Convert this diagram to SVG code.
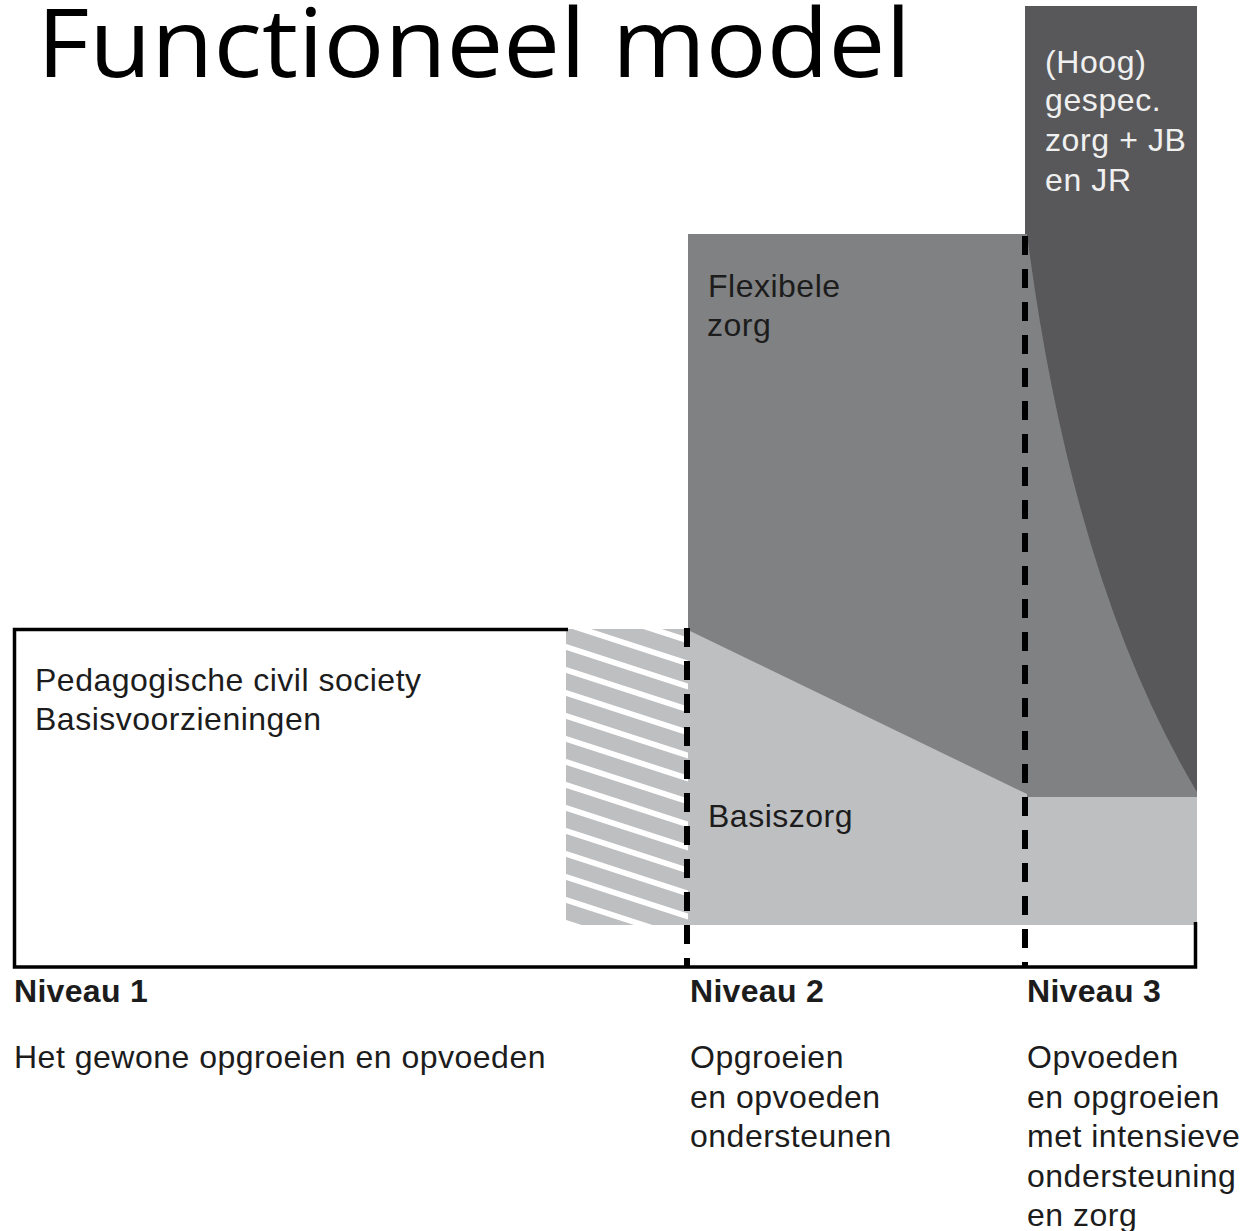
<svg xmlns="http://www.w3.org/2000/svg" width="1248" height="1231" viewBox="0 0 1248 1231">
  <style>
    .lbl { font-family: "Liberation Sans", Arial, sans-serif; font-size: 32px; letter-spacing: 0.5px; fill: #1c1c1c; }
    .lvl { font-family: "Liberation Sans", Arial, sans-serif; font-size: 32px; font-weight: bold; letter-spacing: 0.3px; fill: #1c1c1c; }
    .inv { font-family: "Liberation Sans", Arial, sans-serif; font-size: 32px; letter-spacing: 0.6px; fill: #f0f0f0; }
    .title { font-family: "Open Sans", "Liberation Sans", sans-serif; font-size: 96px; fill: #000; }
    .dash { stroke: #000; stroke-width: 6; stroke-dasharray: 19 14; fill: none; }
    .edge { stroke: #000; stroke-width: 3.5; fill: none; }
  </style>
  <defs>
    <pattern id="hatch" patternUnits="userSpaceOnUse" width="200" height="23" patternTransform="skewY(18)">
      <rect x="0" y="0" width="200" height="23" fill="#bebfc1"/>
      <rect x="0" y="0" width="200" height="6" fill="#ffffff"/>
    </pattern>
  </defs>
  <rect width="1248" height="1231" fill="#ffffff"/>

  <g id="title">
    <text class="title" x="37" y="77" textLength="874" lengthAdjust="spacingAndGlyphs">Functioneel model</text>
  </g>

  <g id="flexibele-zorg">
    <rect x="688" y="234" width="509" height="563" fill="#808183"/>
    <text class="lbl" x="708" y="297">Flexibele</text>
    <text class="lbl" x="707" y="336">zorg</text>
  </g>

  <g id="hoog-gespecialiseerde-zorg">
    <path d="M1025,6 H1197 V792 Q1072,583 1027,234 H1025 Z" fill="#58585a"/>
    <text class="inv" x="1045" y="73">(Hoog)</text>
    <text class="inv" x="1045" y="111">gespec.</text>
    <text class="inv" x="1045" y="151">zorg + JB</text>
    <text class="inv" x="1045" y="191">en JR</text>
  </g>

  <g id="basiszorg">
    <path d="M688,630 L1027,794 V797 H1197 V925 H688 Z" fill="#bebfc1"/>
    <text class="lbl" x="708" y="827">Basiszorg</text>
  </g>

  <g id="overgang">
    <rect x="566" y="629" width="122" height="296" fill="url(#hatch)"/>
  </g>

  <g id="niveau-1">
    <path class="edge" d="M568,629.5 H14.5 V967 H1195.5 V922"/>
    <text class="lbl" x="35" y="691">Pedagogische civil society</text>
    <text class="lbl" x="35" y="730">Basisvoorzieningen</text>
  </g>

  <g id="dividers">
    <line class="dash" x1="687" y1="628" x2="687" y2="967"/>
    <line class="dash" x1="1025" y1="236" x2="1025" y2="967"/>
  </g>

  <g id="niveau-labels">
    <text class="lvl" x="14" y="1002">Niveau 1</text>
    <text class="lbl" x="14" y="1068">Het gewone opgroeien en opvoeden</text>
    <text class="lvl" x="690" y="1002">Niveau 2</text>
    <text class="lbl" x="690" y="1068">Opgroeien</text>
    <text class="lbl" x="690" y="1108">en opvoeden</text>
    <text class="lbl" x="690" y="1147">ondersteunen</text>
    <text class="lvl" x="1027" y="1002">Niveau 3</text>
    <text class="lbl" x="1027" y="1068">Opvoeden</text>
    <text class="lbl" x="1027" y="1108">en opgroeien</text>
    <text class="lbl" x="1027" y="1147">met intensieve</text>
    <text class="lbl" x="1027" y="1187">ondersteuning</text>
    <text class="lbl" x="1027" y="1226">en zorg</text>
  </g>
</svg>
